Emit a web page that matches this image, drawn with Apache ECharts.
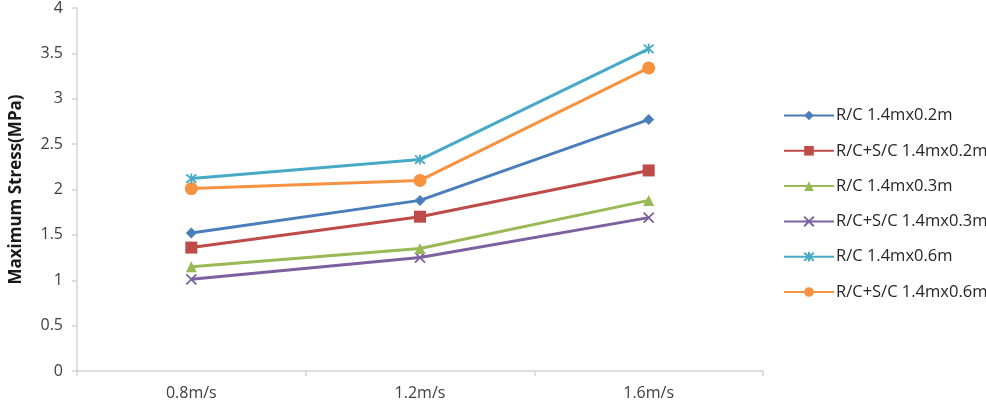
<!DOCTYPE html>
<html>
<head>
<meta charset="utf-8">
<script src="https://cdn.jsdelivr.net/npm/echarts@6/dist/echarts.min.js"></script>
<style>
  html, body { margin: 0; padding: 0; background: #fff; }
  #chart { width: 986px; height: 410px; }
</style>
</head>
<body>
<div id="chart"></div>
<script>
// data
const categories = ["0.8m/s", "1.2m/s", "1.6m/s"];
const seriesNames = [
  "R/C 1.4mx0.2m",
  "R/C+S/C 1.4mx0.2m",
  "R/C 1.4mx0.3m",
  "R/C+S/C 1.4mx0.3m",
  "R/C 1.4mx0.6m",
  "R/C+S/C 1.4mx0.6m"
];
const rc02 = [1.52, 1.88, 2.77];
const rcsc02 = [1.36, 1.70, 2.21];
const rc03 = [1.15, 1.35, 1.88];
const rcsc03 = [1.01, 1.25, 1.69];
const rc06 = [2.12, 2.33, 3.55];
const rcsc06 = [2.01, 2.10, 3.34];
const yTicks = [0, 0.5, 1, 1.5, 2, 2.5, 3, 3.5, 4];

const colors = ["#4A7EBB", "#BE4B48", "#98B954", "#7D60A0", "#46AAC5", "#F69240"];
const symbols = [
  "diamond",
  "rect",
  "triangle",
  "path://M0,0L10,10M10,0L0,10",
  "path://M0,0L10,10M10,0L0,10M5,-1L5,11",
  "circle"
];
const symbolSizes = [11, 12, 11, 10, 10, 13];
const values = [rc02, rcsc02, rc03, rcsc03, rc06, rcsc06];

const FONT = "'Open Sans', sans-serif";

const chart = echarts.init(document.getElementById("chart"), null, { renderer: "canvas" });

const option = {
  animation: false,
  color: colors,
  grid: { left: 73, right: 223, top: 5, bottom: 39, containLabel: false },
  legend: {
    orient: "vertical",
    left: 783,
    top: 107,
    padding: 0,
    itemWidth: 50,
    itemHeight: 12,
    itemGap: 18.3,
    textStyle: { fontFamily: FONT, fontSize: 16.5, color: "#262626", padding: [0, 0, 0, -3] },
    data: seriesNames
  },
  xAxis: {
    type: "category",
    data: categories,
    boundaryGap: true,
    axisLine: { lineStyle: { color: "#D4D4D4", width: 1.5 } },
    axisTick: { show: true, length: 5, lineStyle: { color: "#D4D4D4", width: 1.5 } },
    axisLabel: { fontFamily: FONT, fontSize: 16, color: "#404040", margin: 14 },
    splitLine: { show: false }
  },
  yAxis: {
    type: "value",
    min: yTicks[0],
    max: yTicks[yTicks.length - 1],
    interval: 0.5,
    name: "Maximum Stress(MPa)",
    nameLocation: "middle",
    nameGap: 52,
    nameTextStyle: { fontFamily: FONT, fontSize: 17, fontWeight: "bold", color: "#1a1a1a" },
    axisLine: { show: true, lineStyle: { color: "#D4D4D4", width: 1.5 } },
    axisTick: { show: true, length: 5, lineStyle: { color: "#D4D4D4", width: 1.5 } },
    axisLabel: { fontFamily: FONT, fontSize: 16, color: "#404040", margin: 14 },
    splitLine: { show: false }
  },
  series: seriesNames.map((name, i) => ({
    name: name,
    type: "line",
    data: values[i],
    symbol: symbols[i],
    symbolSize: symbolSizes[i],
    showAllSymbol: true,
    lineStyle: { width: 3, color: colors[i] },
    itemStyle: {
      color: colors[i],
      borderColor: colors[i],
      borderWidth: i === 3 || i === 4 ? 1.8 : 0
    },
    z: 10 - i
  }))
};

chart.setOption(option);
</script>
</body>
</html>
